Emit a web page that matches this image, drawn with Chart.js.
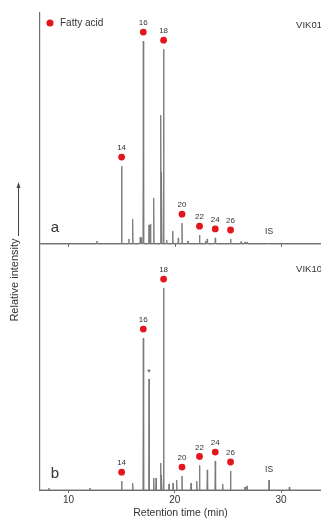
<!DOCTYPE html>
<html>
<head>
<meta charset="utf-8">
<script src="https://cdn.jsdelivr.net/npm/chart.js@4.4.1/dist/chart.umd.min.js"></script>
<style>
  html, body { margin: 0; padding: 0; background: #fff; overflow: hidden; }
  #wrap { position: relative; width: 321px; height: 518px; }
</style>
</head>
<body>
<div id="wrap"><canvas id="gc"></canvas></div>
<script>
// GC traces of VIK01 (a) and VIK10 (b), peak heights in % of the base peak

// fatty acid peaks (red dots)
const acidLabels = ['14', '16', '18', '20', '22', '24', '26'];
const acidTimes = [15.0, 17.04, 18.95, 20.68, 22.33, 23.81, 25.25];
const acidA = [38.4, 100, 96, 10.3, 4.4, 3.0, 2.5];
const acidB = [4.4, 74.9, 99.5, 6.9, 12.1, 14.3, 9.4];

// internal standard
const isTime = 28.87;
const isA = 0.5;
const isB = 4.9;

// other peaks
const otherTimesA = [12.68, 15.69, 16.04, 16.75, 16.85, 17.58, 17.72, 18.02, 18.68, 18.77, 19.24, 19.81, 20.33, 21.25, 22.89, 23.05, 26.24, 26.61, 26.8];
const otherA = [1.5, 2.5, 12.3, 3.4, 3.0, 9.4, 9.9, 22.7, 63.5, 35.5, 2.0, 6.4, 3.0, 1.5, 1.5, 2.5, 1.2, 1.0, 1.0];
const otherTimesB = [8.16, 12.02, 16.04, 17.58, 18.02, 18.24, 18.68, 18.77, 19.46, 19.84, 20.18, 21.53, 22.07, 23.06, 24.51, 26.61, 26.8, 30.78];
const otherB = [1.0, 1.0, 3.4, 54.7, 5.9, 5.9, 13.3, 7.4, 3.0, 3.4, 4.9, 3.4, 4.4, 9.9, 3.0, 1.5, 2.0, 1.5];
const starTime = 17.58;   // peak marked with *

const sampleNames = ['VIK01', 'VIK10'];
const panelLetters = ['a', 'b'];
const xTicks = [10, 20, 30];

// display settings
const X_MIN = 7.32, X_MAX = 33.76;
const Y_MAX = 235;
const A_OFFSET = 121.2;   // trace a is drawn above trace b
const DOT_GAP = 4.4;
const PEAK_W = 0.035;
const FONT = '"Liberation Sans", Arial, sans-serif';
const TEXT = '#333';
const AXIS = '#6e6e6e';
const RED = '#e3161d';

Chart.defaults.font.family = FONT;

// turn peak lists into a spiky trace
function buildTrace(times, heights, offset) {
    const peaks = times.map((t, i) => ({ t: t, h: heights[i] })).sort((p, q) => p.t - q.t);
    const pts = [{ x: X_MIN, y: offset }];
    peaks.forEach(p => {
        pts.push({ x: p.t - PEAK_W, y: offset });
        pts.push({ x: p.t, y: offset + p.h });
        pts.push({ x: p.t + PEAK_W, y: offset });
    });
    pts.push({ x: X_MAX, y: offset });
    return pts;
}

const traceA = buildTrace(otherTimesA.concat(acidTimes, [isTime]), otherA.concat(acidA, [isA]), A_OFFSET);
const traceB = buildTrace(otherTimesB.concat(acidTimes, [isTime]), otherB.concat(acidB, [isB]), 0);

const dotsA = acidTimes.map((t, i) => ({ x: t, y: A_OFFSET + acidA[i] + DOT_GAP }));
const dotsB = acidTimes.map((t, i) => ({ x: t, y: acidB[i] + DOT_GAP }));

// texts: peak numbers, IS, *, sample names, panel letters, y title
const annotate = {
    id: 'annotate',
    afterDatasetsDraw(chart) {
        const { ctx, chartArea, scales: { x, y } } = chart;
        const baseA = y.getPixelForValue(A_OFFSET);
        ctx.save();
        ctx.fillStyle = TEXT;
        ctx.textAlign = 'center';
        ctx.textBaseline = 'middle';

        // peak numbers
        ctx.font = '8px ' + FONT;
        [[acidA, A_OFFSET], [acidB, 0]].forEach(([hs, off]) => {
            acidLabels.forEach((lab, i) => {
                ctx.fillText(lab, x.getPixelForValue(acidTimes[i]), y.getPixelForValue(off + hs[i] + DOT_GAP) - 9);
            });
        });

        // IS
        ctx.font = '8.5px ' + FONT;
        ctx.fillText('IS', x.getPixelForValue(isTime), y.getPixelForValue(A_OFFSET + isA) - 11);
        ctx.fillText('IS', x.getPixelForValue(isTime), y.getPixelForValue(isB) - 10);

        // star peak
        const starH = otherB[otherTimesB.indexOf(starTime)];
        ctx.font = '9px ' + FONT;
        ctx.fillText('*', x.getPixelForValue(starTime), y.getPixelForValue(starH) - 6);

        // sample names
        ctx.font = '9.5px ' + FONT;
        ctx.textAlign = 'right';
        ctx.fillText(sampleNames[0], chartArea.right + 1, chartArea.top + 12);
        ctx.fillText(sampleNames[1], chartArea.right + 1, baseA + 25);

        // panel letters
        ctx.font = '15px ' + FONT;
        ctx.textAlign = 'center';
        ctx.fillText(panelLetters[0], chartArea.left + 15, baseA - 16);
        ctx.fillText(panelLetters[1], chartArea.left + 15, chartArea.bottom - 16);

        // tick marks on trace a baseline
        ctx.strokeStyle = AXIS;
        ctx.lineWidth = 1;
        ctx.beginPath();
        xTicks.forEach(v => {
            const px = Math.round(x.getPixelForValue(v)) + 0.5;
            ctx.moveTo(px, baseA);
            ctx.lineTo(px, baseA + 3);
        });
        ctx.stroke();

        // y title with arrow
        ctx.save();
        ctx.translate(15, 280);
        ctx.rotate(-Math.PI / 2);
        ctx.font = '11px ' + FONT;
        ctx.fillStyle = TEXT;
        ctx.fillText('Relative intensity', 0, 0);
        ctx.restore();
        ctx.strokeStyle = '#444';
        ctx.beginPath();
        ctx.moveTo(18.5, 236);
        ctx.lineTo(18.5, 186);
        ctx.stroke();
        ctx.fillStyle = '#444';
        ctx.beginPath();
        ctx.moveTo(18.5, 182);
        ctx.lineTo(16.5, 188);
        ctx.lineTo(20.5, 188);
        ctx.closePath();
        ctx.fill();

        ctx.restore();
    }
};

new Chart(document.getElementById('gc'), {
    type: 'line',
    data: {
        datasets: [
            {
                type: 'scatter',
                label: 'Fatty acid',
                data: dotsA,
                backgroundColor: RED,
                borderColor: RED,
                borderWidth: 0,
                pointRadius: 3.4,
                pointStyle: 'circle'
            },
            {
                type: 'scatter',
                label: 'Fatty acid b',
                data: dotsB,
                backgroundColor: RED,
                borderColor: RED,
                borderWidth: 0,
                pointRadius: 3.4,
                pointStyle: 'circle'
            },
            {
                label: 'VIK01',
                data: traceA,
                borderColor: '#7a7a7a',
                borderWidth: 1,
                pointRadius: 0,
                tension: 0,
                fill: false
            },
            {
                label: 'VIK10',
                data: traceB,
                borderColor: '#7a7a7a',
                borderWidth: 1,
                pointRadius: 0,
                tension: 0,
                fill: false
            }
        ]
    },
    options: {
        responsive: true,
        maintainAspectRatio: false,
        animation: false,
        events: [],
        layout: { autoPadding: false, padding: { left: 0, right: 0, top: 13, bottom: 0 } },
        scales: {
            x: {
                type: 'linear',
                min: X_MIN,
                max: X_MAX,
                afterBuildTicks: s => { s.ticks = xTicks.map(v => ({ value: v })); },
                afterFit: s => { s.height = 28; },
                border: { display: true, color: AXIS, width: 1 },
                grid: { drawOnChartArea: false, drawTicks: true, tickLength: 3, color: AXIS },
                ticks: {
                    color: TEXT,
                    padding: 2,
                    maxRotation: 0,
                    font: { size: 10, lineHeight: 1 }
                },
                title: {
                    display: true,
                    text: 'Retention time (min)',
                    color: TEXT,
                    padding: { top: 0, bottom: 0 },
                    font: { size: 10.5, lineHeight: 1 }
                }
            },
            y: {
                type: 'linear',
                min: 0,
                max: Y_MAX,
                afterBuildTicks: s => { s.ticks = [{ value: A_OFFSET }]; },
                afterFit: s => { s.width = 40; },
                border: { display: true, color: AXIS, width: 1.2 },
                grid: { drawTicks: false, color: AXIS, lineWidth: 1 },
                ticks: { display: false }
            }
        },
        plugins: {
            legend: {
                position: 'chartArea',
                align: 'start',
                title: { display: true, text: '', padding: 0, font: { size: 13, lineHeight: 1 } },
                labels: {
                    usePointStyle: true,
                    pointStyle: 'circle',
                    boxWidth: 10,
                    boxHeight: 5,
                    padding: 5,
                    color: TEXT,
                    font: { size: 10 },
                    filter: item => item.datasetIndex === 0
                }
            },
            tooltip: { enabled: false }
        }
    },
    plugins: [annotate]
});
</script>
</body>
</html>
